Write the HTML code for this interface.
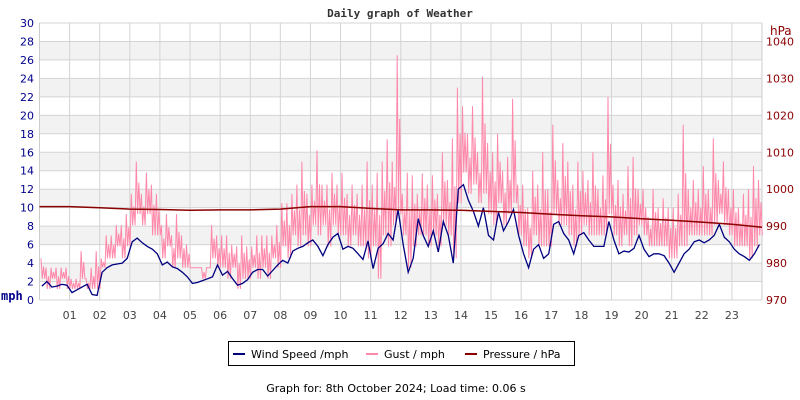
<!DOCTYPE html>
<html><head><meta charset="utf-8"><style>
body{margin:0;background:#fff;width:800px;height:400px;overflow:hidden}
svg{display:block;font-family:"DejaVu Sans","Liberation Sans",sans-serif}
</style></head><body>
<svg id="chart" width="800" height="400" viewBox="0 0 800 400" xmlns="http://www.w3.org/2000/svg">
<text x="400" y="17" text-anchor="middle" font-family="DejaVu Sans Mono, monospace" font-weight="bold" font-size="11" fill="#333">Daily graph of Weather</text>
<g id="bands"></g>
<g id="grid"></g>
<g id="series"></g>
<g id="axes"></g>
<text x="1" y="300" font-size="12" font-weight="bold" fill="#00008b" font-family="DejaVu Sans Mono, monospace">mph</text>
<text x="770" y="35" font-size="12" fill="#8b0000">hPa</text>
<g>
<rect x="228.5" y="341.5" width="346" height="24" fill="#fff" stroke="#000"/>
<g><line x1="233" y1="354" x2="245" y2="354" stroke="#000080" stroke-width="2"/><text x="251" y="358" font-size="11">Wind Speed /mph</text></g>
<g><line x1="366" y1="354" x2="378" y2="354" stroke="#ff88aa" stroke-width="2"/><text x="384" y="358" font-size="11">Gust / mph</text></g>
<g><line x1="465" y1="354" x2="477" y2="354" stroke="#8b0000" stroke-width="2"/><text x="483" y="358" font-size="11">Pressure / hPa</text></g>
</g>
<text x="396" y="392" text-anchor="middle" font-size="11">Graph for: 8th October 2024; Load time: 0.06 s</text>
</svg>
<script>
const hourLabels=["01","02","03","04","05","06","07","08","09","10","11","12","13","14","15","16","17","18","19","20","21","22","23"];
const mphTicks=[0,2,4,6,8,10,12,14,16,18,20,22,24,26,28,30];
const hpaTicks=[970,980,990,1000,1010,1020,1030,1040];
const wind=[1.5,2,1.4,1.5,1.7,1.6, 0.8,1.1,1.4,1.7,0.6,0.5, 3.0,3.5,3.8,3.9,4.0,4.5, 6.3,6.7,6.2,5.8,5.5,5.0, 3.8,4.1,3.6,3.4,3.0,2.5, 1.8,1.9,2.1,2.3,2.5,3.8, 2.7,3.1,2.3,1.6,1.8,2.2, 3.0,3.3,3.3,2.6,3.2,3.8, 4.3,4.0,5.3,5.6,5.8,6.2, 6.5,5.8,4.8,6.0,6.8,7.2, 5.5,5.8,5.6,5.0,4.4,6.4, 3.4,5.6,6.1,7.2,6.5,9.8, 6.0,3.0,4.5,8.8,7.0,5.8, 7.5,5.2,8.5,7.0,4.0,12.0, 12.5,10.8,9.6,8.0,10.0,7.0, 6.5,9.5,7.5,8.5,9.8,7.0, 5.0,3.5,5.5,6.0,4.5,5.0, 8.2,8.5,7.2,6.5,5.0,7.0, 7.3,6.5,5.8,5.8,5.8,8.5, 6.5,5.0,5.3,5.2,5.6,7.0, 5.5,4.7,5.0,5.0,4.8,4.0, 3.0,4.0,5.0,5.5,6.3,6.5, 6.2,6.5,7.0,8.2,6.8,6.3, 5.5,5.0,4.7,4.3,5.0,6.0];
const gust=[4.5,3.5,3.5,3.5,3.5,3.5, 2.3,2.3,5.3,2.3,3.5,5.3, 4.5,7.0,7.0,8.1,8.1,9.3, 11.5,15.0,11.5,13.8,12.5,11.5, 8.1,9.3,7.0,9.3,7.0,6.0, 3.5,3.5,3.5,3.5,8.1,7.0, 7.0,7.0,6.0,5.8,7.0,5.8, 5.8,7.0,7.0,7.0,7.0,8.1, 10.5,10.5,11.5,12.5,15.0,11.5, 12.5,16.2,12.5,12.5,13.8,12.5, 13.8,11.5,12.5,11.5,12.5,15.0, 12.5,13.8,15.0,17.4,15.0,26.5, 11.5,13.8,13.5,11.5,13.7,12.5, 13.5,11.5,16.0,13.0,17.5,23.0, 21.0,18.0,21.0,16.0,24.2,17.0, 16.0,18.0,14.0,15.5,21.8,12.5, 12.5,10.0,14.0,12.5,16.0,12.0, 19.0,13.0,17.0,15.0,12.5,15.0, 14.0,13.0,16.0,12.0,13.5,22.0, 12.5,13.0,11.5,14.5,15.5,12.0, 12.0,9.0,12.0,10.0,11.0,10.0, 10.0,11.5,19.0,12.0,13.0,12.0, 14.5,12.0,17.5,13.0,15.0,12.0, 12.0,10.0,11.5,12.0,14.5,13.0];
const gustLow=[2.3,1.2,2.3,1.2,2.3,1.2, 1.2,1.2,2.3,1.2,1.2,1.2, 3.5,4.5,4.5,5.8,4.5,5.8, 8.1,9.3,8.1,9.3,7.0,7.0, 4.5,5.8,3.5,4.5,3.5,3.5, 3.5,3.5,2.3,3.5,4.5,3.5, 3.5,2.3,3.5,1.2,2.3,2.3, 3.5,2.3,3.5,2.3,4.5,3.5, 5.8,4.5,7.0,5.8,7.0,5.8, 8.1,7.0,8.1,5.8,8.1,7.0, 7.0,5.8,7.0,5.8,5.8,4.5, 5.8,2.3,7.0,5.8,8.1,9.3, 7.0,3.5,5.8,7.0,7.0,5.8, 7.0,5.8,8.1,7.0,4.5,10.5, 13.8,11.5,12.5,10.5,11.5,9.3, 8.1,10.5,8.1,9.3,10.5,7.0, 5.8,4.5,7.0,5.8,5.8,5.8, 9.3,8.1,8.1,7.0,5.8,7.0, 8.1,7.0,7.0,7.0,7.0,9.3, 7.0,5.8,7.0,5.8,7.0,8.1, 7.0,5.8,5.8,5.8,5.8,4.5, 4.5,5.8,5.8,7.0,7.0,7.0, 7.0,7.0,8.1,9.3,8.1,7.0, 5.8,5.8,5.8,4.5,5.8,7.0];
const pressure=[995.3,995.3,995.0,994.6,994.5,994.3,994.4,994.4,994.6,995.3,995.3,994.8,994.4,994.4,994.3,994.0,993.7,993.2,992.8,992.5,992.0,991.6,991.1,990.5,989.7];

const NS="http://www.w3.org/2000/svg";
const X0=39.5,X1=762,Y0=300,Y1=23;
const xH=h=>X0+(X1-X0)*h/24;
const yM=v=>Y0-(Y0-Y1)*v/30;
const yP=p=>yM((p-970)*0.4);
function mk(tag,attrs,parent){const e=document.createElementNS(NS,tag);for(const k in attrs)e.setAttribute(k,attrs[k]);parent.appendChild(e);return e;}
const bands=document.getElementById('bands'),grid=document.getElementById('grid'),series=document.getElementById('series'),axes=document.getElementById('axes');
mk('rect',{x:X0,y:Y1,width:X1-X0,height:Y0-Y1,fill:'#fff'},bands);
for(let v=2;v<30;v+=4){const r=mk('rect',{x:X0,y:yM(v+2),width:X1-X0,height:yM(v)-yM(v+2),fill:'#f2f2f2'},bands);

}
mphTicks.forEach(v=>{const l=mk('line',{x1:X0,x2:X1,y1:yM(v),y2:yM(v),stroke:'#d4d4d4'},grid);


const t=mk('text',{x:34,y:yM(v)+4,'text-anchor':'end','font-size':11,fill:'#00008b'},axes);t.textContent=v;

});
hourLabels.forEach((s,i)=>{const h=i+1;const l=mk('line',{x1:xH(h),x2:xH(h),y1:Y1,y2:Y0,stroke:'#d4d4d4'},grid);


const t=mk('text',{x:xH(h),y:319,'text-anchor':'middle','font-size':11,fill:'#444'},axes);t.textContent=s;

});
hpaTicks.forEach(p=>{const t=mk('text',{x:766,y:yP(p)+4,'font-size':11,fill:'#8b0000'},axes);t.textContent=p;

});
mk('line',{x1:X0,x2:X0,y1:Y1,y2:Y0,stroke:'#ccc'},grid);
mk('line',{x1:X1,x2:X1,y1:Y1,y2:Y0,stroke:'#ccc'},grid);
function polyPts(pts,color,w,name){
const p=mk('polyline',{points:pts.map(q=>q[0].toFixed(1)+','+q[1].toFixed(1)).join(' '),fill:'none',stroke:color,'stroke-width':w,'stroke-linejoin':'miter'},series);

}
const n=gust.length, step=24/n;
const fr=[1,0.6];
const gpts=[];
gust.forEach((g,i)=>{const h=i*step+0.05;const lo=gustLow[i];
fr.forEach((f,k)=>{gpts.push([xH(h+step*k/2),yM(lo+(g-lo)*f)]);
gpts.push([xH(h+step*(k+0.5)/2),yM(lo)]);});});
polyPts(gpts,'#ff88aa',1,'gust-line');
polyPts(wind.map((v,i)=>[xH(i*24/wind.length+0.08),yM(v)]),'#000080',1.3,'wind-speed-line');
polyPts(pressure.map((v,i)=>[xH(i*24/(pressure.length-1)),yP(v)]),'#8b0000',1.5,'pressure-line');
</script>
</body></html>
